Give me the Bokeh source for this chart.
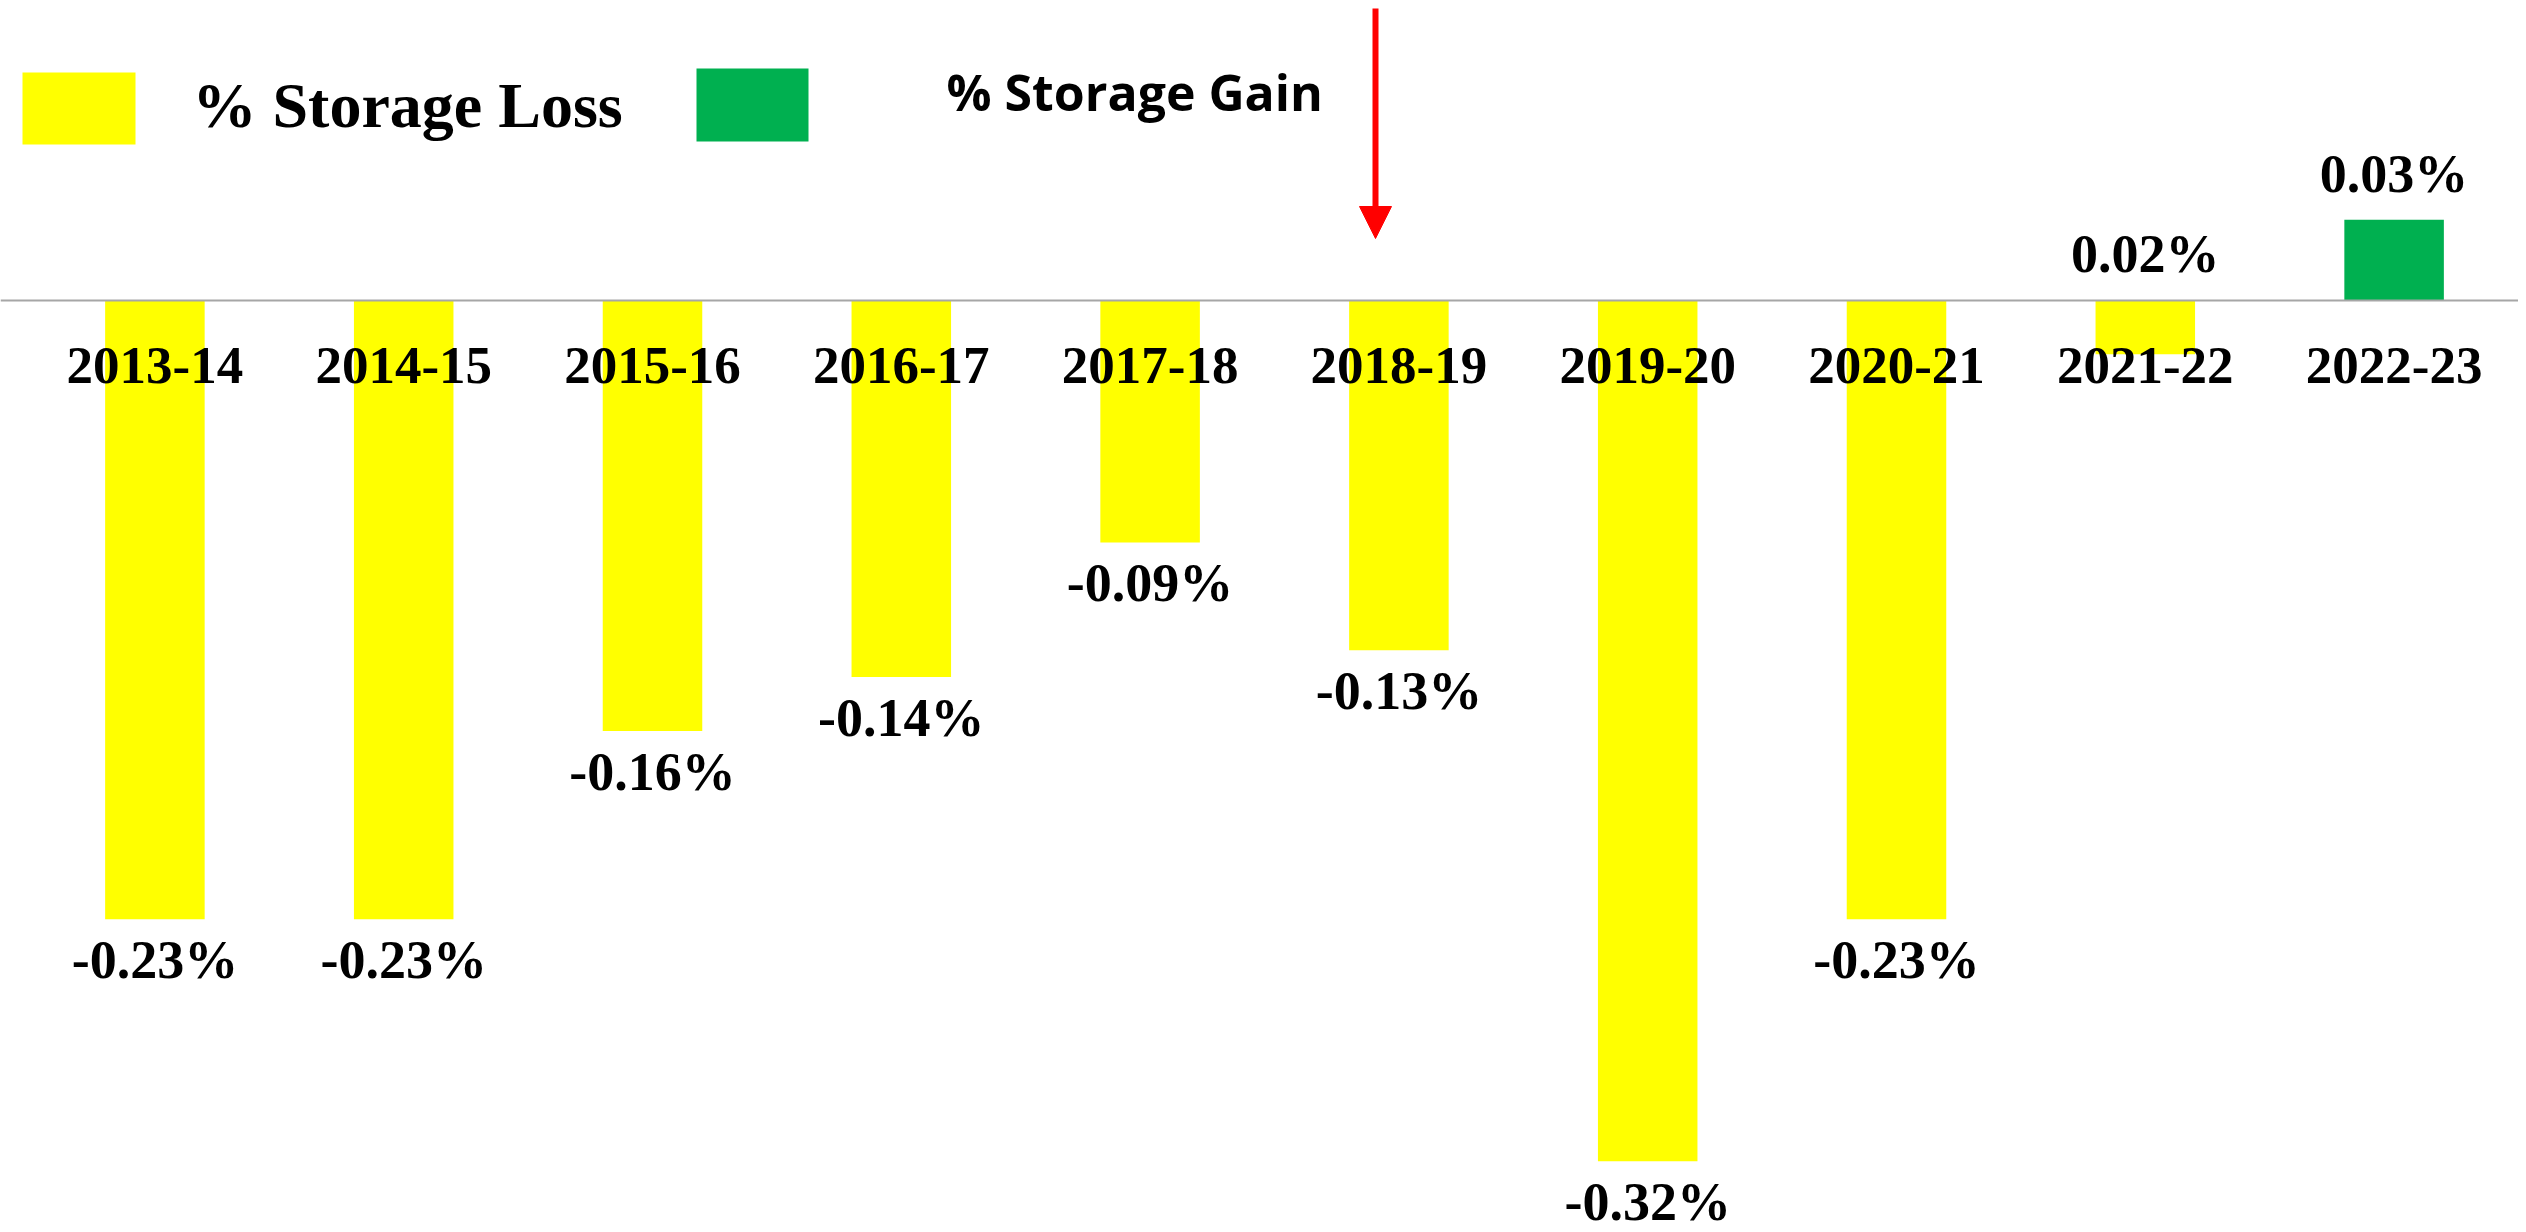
from bokeh.plotting import figure
from bokeh.models import (Range1d, Span, Label, BoxAnnotation,
                          Arrow, NormalHead, ColumnDataSource)
from bokeh.embed import file_html
from bokeh.resources import INLINE
from bokeh.core.properties import value

# ---- data ----
categories = ["2013-14", "2014-15", "2015-16", "2016-17", "2017-18",
              "2018-19", "2019-20", "2020-21", "2021-22", "2022-23"]
storage_change = [-0.23, -0.23, -0.16, -0.14, -0.09, -0.13, -0.32, -0.23, -0.02, 0.03]
value_labels = ["-0.23%", "-0.23%", "-0.16%", "-0.14%", "-0.09%",
                "-0.13%", "-0.32%", "-0.23%", "0.02%", "0.03%"]
legend_labels = ["% Storage Loss", "% Storage Gain"]

LOSS = "#FFFF00"
GAIN = "#00B050"

# ---- layout ----
W, H = 2518, 1232
PAD_L = 30            # px left of the first category slot
CAT_W = 248.8         # px per category slot
PPU = 2690.0          # pixels per 1 percentage point
BASE = 300            # baseline distance from figure top (px)
y_top = BASE / PPU
y_bot = -(H - BASE) / PPU
TXT_FIX = 0.3         # em correction for text baseline placement


def fx(px):  # page px -> data x
    return (px - PAD_L) / CAT_W


def fy(py):  # page px -> data y
    return (BASE - py) / PPU


xpos = [i + 0.5 for i in range(len(categories))]
colors = [LOSS if v < 0 else GAIN for v in storage_change]
label_y = [v - (57 - TXT_FIX * 54) / PPU if t.startswith("-")
           else max(v, 0) + (30 + TXT_FIX * 54) / PPU
           for v, t in zip(storage_change, value_labels)]

src = ColumnDataSource(dict(x=xpos, cat=categories, val=storage_change, color=colors,
                            lab=value_labels, ly=label_y))

p = figure(width=W, height=H, x_range=Range1d(fx(0), fx(W)),
           y_range=Range1d(y_bot, y_top), output_backend="svg",
           toolbar_location=None, x_axis_location=None, y_axis_location=None,
           min_border=0, outline_line_color=None)
p.grid.visible = False

p.vbar(x="x", top="val", bottom=0, width=0.40, fill_color="color",
       line_color=None, source=src)

p.add_layout(Span(location=0, dimension="width", line_color="#A6A6A6", line_width=2))

p.text(x="x", y=fy(381 - TXT_FIX * 53), text="cat", source=src,
       text_font=value("Liberation Serif"), text_font_style="bold",
       text_font_size="53px", text_align="center", text_baseline="alphabetic",
       text_color="black")

p.text(x="x", y="ly", text="lab", source=src,
       text_font=value("Liberation Serif"), text_font_style="bold",
       text_font_size="54px", text_align="center", text_baseline="alphabetic",
       text_line_height=1.0, text_color="black")

# ---- legend ----
p.add_layout(BoxAnnotation(left=fx(22), right=fx(135), top=fy(72), bottom=fy(144),
                           fill_color=LOSS, fill_alpha=1, line_color=None))
p.add_layout(BoxAnnotation(left=fx(696), right=fx(808), top=fy(68), bottom=fy(141),
                           fill_color=GAIN, fill_alpha=1, line_color=None))
p.add_layout(Label(x=fx(192), y=fy(128 - 23), text=legend_labels[0],
                   text_font="Liberation Serif", text_font_style="bold",
                   text_font_size="64px", text_baseline="alphabetic",
                   text_align="left", text_color="black"))
p.add_layout(Label(x=fx(946), y=fy(113 - 22), text=legend_labels[1],
                   text_font="Open Sans", text_font_style="bold",
                   text_font_size="50px", text_baseline="alphabetic",
                   text_align="left", text_color="black"))

# ---- red arrow ----
p.add_layout(Arrow(end=NormalHead(size=32, fill_color="#FF0000", line_color="#FF0000"),
                   x_start=fx(1375), y_start=fy(8), x_end=fx(1375), y_end=fy(238),
                   line_color="#FF0000", line_width=6))

open("out.html", "w").write(file_html(p, INLINE, "Storage change"))
